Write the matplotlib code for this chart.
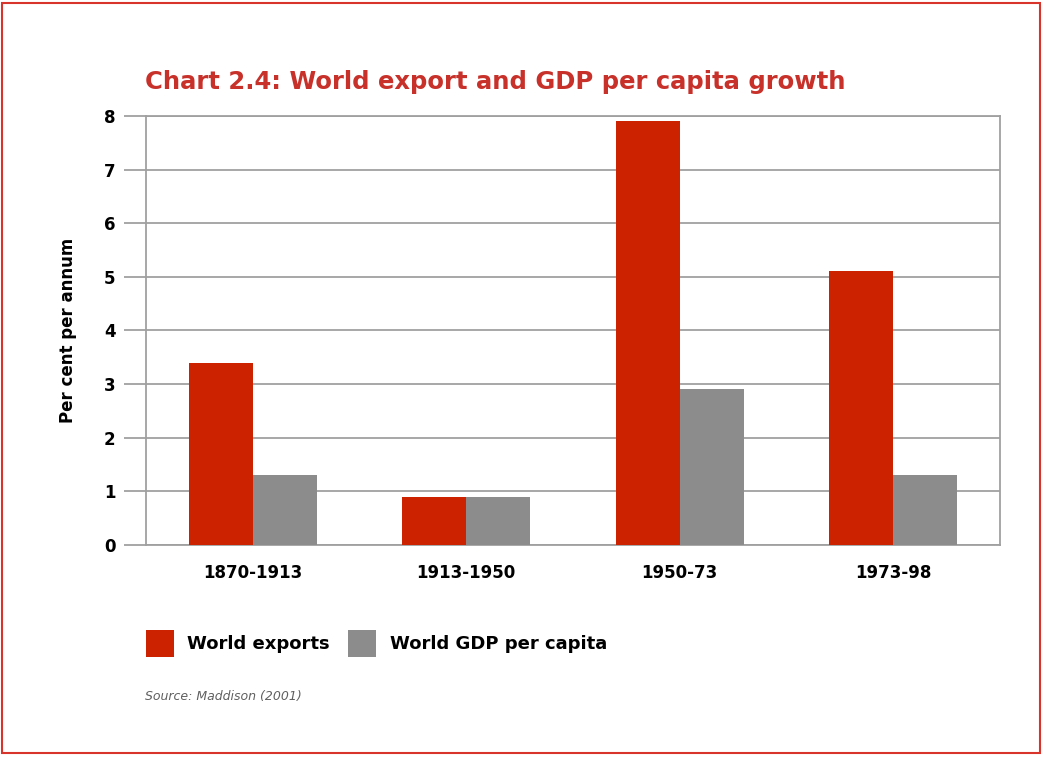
import numpy as np
import matplotlib.pyplot as plt
from matplotlib.patches import Rectangle

periods = ["1870-1913", "1913-1950", "1950-73", "1973-98"]
exports = [3.4, 0.9, 7.9, 5.1]
gdp_pc = [1.3, 0.9, 2.9, 1.3]

red = "#cc2200"
grey = "#8c8c8c"

plt.rcParams['font.family'] = ['DejaVu Sans']

fig = plt.figure(figsize=(10.46, 7.58), dpi=100)
ax = fig.add_axes([0.1396, 0.281, 0.8164, 0.566])

x = np.arange(len(periods)) + 0.5
w = 0.3
ax.bar(x - w / 2, exports, w, color=red, label="World exports", zorder=3)
ax.bar(x + w / 2, gdp_pc, w, color=grey, label="World GDP per capita", zorder=3)

ax.set_xlim(0, 4)
ax.set_ylim(0, 8)
ax.set_yticks(range(0, 9))
ax.yaxis.grid(True, color="#a0a0a0", linewidth=1.3, zorder=0)
for s in ax.spines.values():
  s.set_color("#a0a0a0")
  s.set_linewidth(1.3)
ax.tick_params(axis='y', length=16, width=1.3, color="#a0a0a0", labelsize=12, pad=6)
ax.tick_params(axis='x', length=0, labelsize=12, pad=14)
ax.set_xticks(x)
ax.set_xticklabels(periods, fontweight='bold')
for t in ax.get_yticklabels():
  t.set_fontweight('bold')
ax.set_ylabel("Per cent per annum", fontsize=12, fontweight='bold', labelpad=19)

fig.text(0.139, 0.892, "Chart 2.4: World export and GDP per capita growth",
         fontsize=17.5, fontweight='bold', color="#c8302a", va='center')

handles, labels = ax.get_legend_handles_labels()
fig.legend(handles, labels, loc='center left', bbox_to_anchor=(0.124, 0.151),
           ncol=2, frameon=False, handlelength=1.55, handleheight=2.0,
           handletextpad=0.75, columnspacing=1.0,
           prop={'weight': 'bold', 'size': 13})

fig.text(0.139, 0.081, "Source: Maddison (2001)", fontsize=9, style='italic',
         color="#606060", va='center')

# red frame round the figure
fig.patches.append(Rectangle((0.002, 0.006), 0.992, 0.99, transform=fig.transFigure,
                             fill=False, edgecolor="#d9342b", linewidth=1.5))

fig.savefig("out.png", dpi=100)
